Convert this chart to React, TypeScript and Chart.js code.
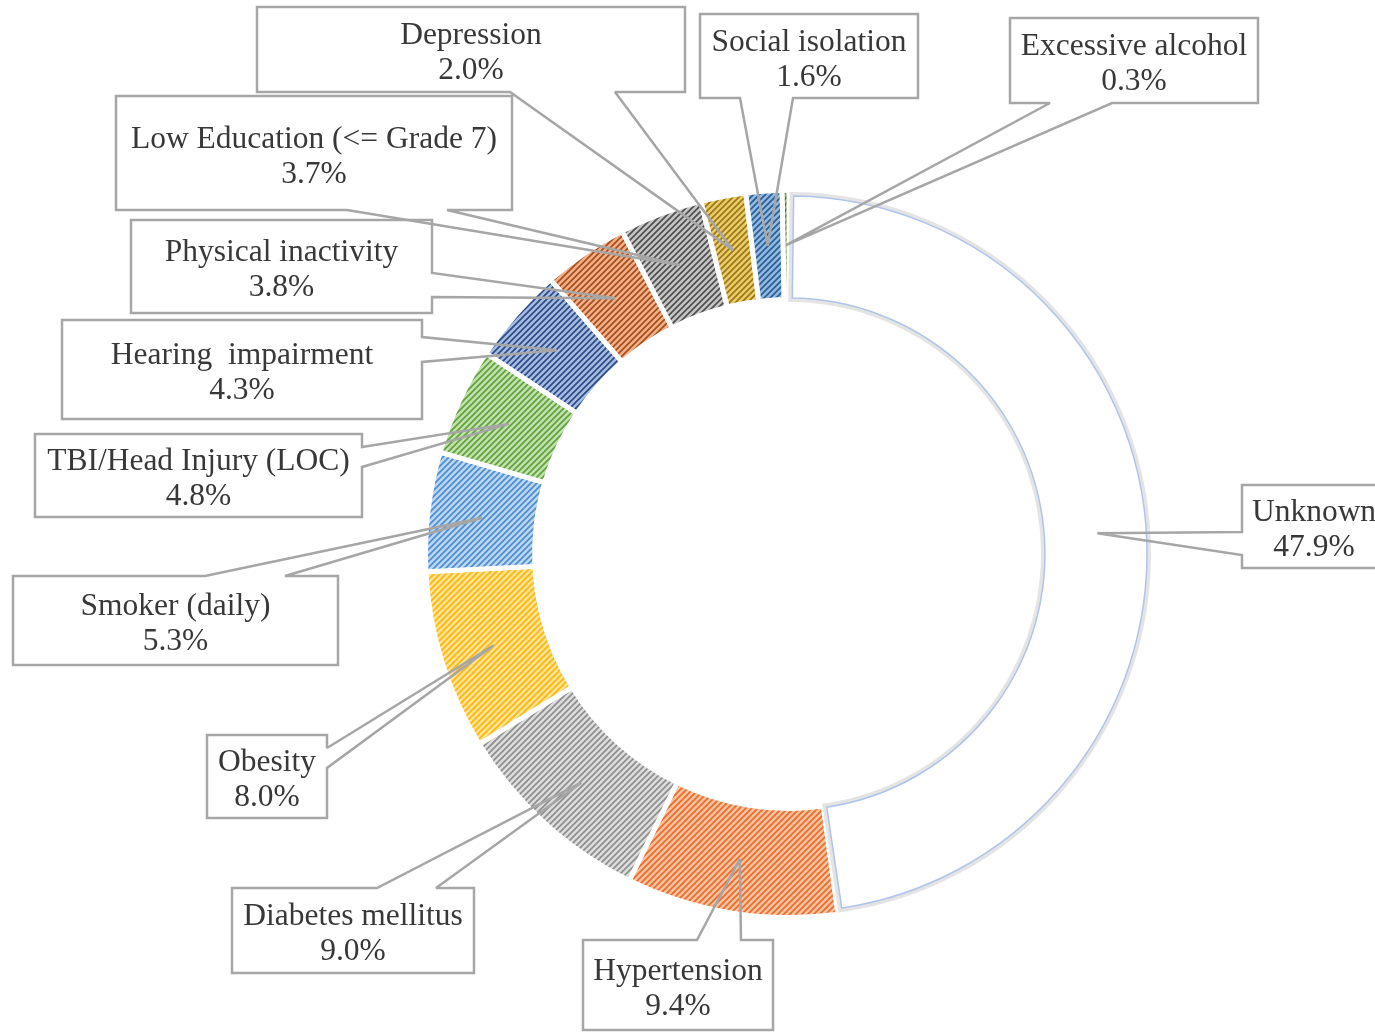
import React, { useEffect, useRef } from 'react';
import { Chart, registerables } from 'chart.js';

Chart.register(...registerables);

// ---- data ----
const categories = [
  'Unknown',
  'Hypertension',
  'Diabetes mellitus',
  'Obesity',
  'Smoker (daily)',
  'TBI/Head Injury (LOC)',
  'Hearing  impairment',
  'Physical inactivity',
  'Low Education (<= Grade 7)',
  'Depression',
  'Social isolation',
  'Excessive alcohol',
];
const values = [47.9, 9.4, 9.0, 8.0, 5.3, 4.8, 4.3, 3.8, 3.7, 2.0, 1.6, 0.3];

// ---- styles ----
const tintColors = [
  '#FFFFFF', '#F8C3A0', '#DDDDDD', '#FFE38F', '#BCD6F0', '#C3E0B0',
  '#A7BCE2', '#F2B08A', '#C6C6C6', '#EACB6E', '#94B9E0', '#86AE66',
];
const stripeColors = [
  '#FFFFFF', '#EC6A2A', '#8E8E8E', '#FDB515', '#4B8DD4', '#5FA23A',
  '#2C4A85', '#A54E1A', '#4E4E4E', '#9A7810', '#285E97', '#43682B',
];

// ---- callout layout (box rectangles and where the pointer leaves the box) ----
type Side = 'top' | 'right' | 'bottom' | 'left';
const calloutLayout: { x0: number; y0: number; x1: number; y1: number; side: Side; a: number; b: number }[] = [
  { x0: 1242, y0: 485, x1: 1386, y1: 568, side: 'left', a: 532, b: 555 },
  { x0: 583, y0: 940, x1: 773, y1: 1030, side: 'top', a: 697, b: 741 },
  { x0: 232, y0: 888, x1: 474, y1: 973, side: 'top', a: 377, b: 436 },
  { x0: 207, y0: 735, x1: 327, y1: 818, side: 'right', a: 748, b: 768 },
  { x0: 13, y0: 576, x1: 338, y1: 665, side: 'top', a: 205, b: 285 },
  { x0: 35, y0: 434, x1: 362, y1: 517, side: 'right', a: 447, b: 467 },
  { x0: 62, y0: 320, x1: 422, y1: 419, side: 'right', a: 337, b: 362 },
  { x0: 131, y0: 220, x1: 432, y1: 313, side: 'right', a: 273, b: 297 },
  { x0: 116, y0: 96, x1: 512, y1: 210, side: 'bottom', a: 347, b: 447 },
  { x0: 257, y0: 7, x1: 685, y1: 92, side: 'bottom', a: 510, b: 615 },
  { x0: 700, y0: 14, x1: 918, y1: 98, side: 'bottom', a: 740, b: 793 },
  { x0: 1010, y0: 18, x1: 1258, y1: 103, side: 'bottom', a: 1050, b: 1112 },
];

function makePattern(bg: string, fg: string): CanvasPattern | string {
  const size = 6;
  const c = document.createElement('canvas');
  c.width = size;
  c.height = size;
  const g = c.getContext('2d');
  if (!g) return bg;
  g.fillStyle = bg;
  g.fillRect(0, 0, size, size);
  g.strokeStyle = fg;
  g.lineWidth = 1.7;
  g.lineCap = 'square';
  g.beginPath();
  g.moveTo(0, size);
  g.lineTo(size, 0);
  g.moveTo(-1, 1);
  g.lineTo(1, -1);
  g.moveTo(size - 1, size + 1);
  g.lineTo(size + 1, size - 1);
  g.stroke();
  const p = g.createPattern(c, 'repeat');
  return p || bg;
}

const unknownPlugin = {
  id: 'unknownOutline',
  afterDatasetsDraw(chart: any) {
    const meta = chart.getDatasetMeta(0);
    const arc = meta.data[0];
    if (!arc) return;
    const p = arc.getProps(['x', 'y', 'startAngle', 'endAngle', 'innerRadius', 'outerRadius'], true);
    const ctx: CanvasRenderingContext2D = chart.ctx;
    const ro = p.outerRadius - 5.5;
    const ri = p.innerRadius + 1.5;
    const d = 4 / ((ro + ri) / 2);
    const s = p.startAngle + d;
    const e = p.endAngle - d;
    ctx.save();
    ctx.beginPath();
    ctx.arc(p.x, p.y, ro, s, e);
    ctx.arc(p.x, p.y, ri, e, s, true);
    ctx.closePath();
    ctx.lineJoin = 'miter';
    ctx.strokeStyle = '#E4E4E4';
    ctx.lineWidth = 8;
    ctx.stroke();
    ctx.fillStyle = '#FFFFFF';
    ctx.fill();
    ctx.strokeStyle = '#AFC4EA';
    ctx.lineWidth = 1.5;
    ctx.stroke();
    ctx.restore();
  },
};

const calloutPlugin = {
  id: 'callouts',
  afterDraw(chart: any) {
    const meta = chart.getDatasetMeta(0);
    const ctx: CanvasRenderingContext2D = chart.ctx;
    ctx.save();
    meta.data.forEach((arc: any, i: number) => {
      const L = calloutLayout[i];
      if (!L) return;
      const p = arc.getProps(['x', 'y', 'startAngle', 'endAngle', 'innerRadius', 'outerRadius'], true);
      const mid = (p.startAngle + p.endAngle) / 2;
      const r = (p.innerRadius + p.outerRadius) / 2;
      const tx = p.x + Math.cos(mid) * r;
      const ty = p.y + Math.sin(mid) * r;
      const lo = Math.min(L.a, L.b);
      const hi = Math.max(L.a, L.b);

      ctx.fillStyle = '#FFFFFF';
      ctx.fillRect(L.x0, L.y0, L.x1 - L.x0, L.y1 - L.y0);

      ctx.beginPath();
      ctx.moveTo(L.x0, L.y0);
      if (L.side === 'top') {
        ctx.lineTo(lo, L.y0);
        ctx.lineTo(tx, ty);
        ctx.lineTo(hi, L.y0);
      }
      ctx.lineTo(L.x1, L.y0);
      if (L.side === 'right') {
        ctx.lineTo(L.x1, lo);
        ctx.lineTo(tx, ty);
        ctx.lineTo(L.x1, hi);
      }
      ctx.lineTo(L.x1, L.y1);
      if (L.side === 'bottom') {
        ctx.lineTo(hi, L.y1);
        ctx.lineTo(tx, ty);
        ctx.lineTo(lo, L.y1);
      }
      ctx.lineTo(L.x0, L.y1);
      if (L.side === 'left') {
        ctx.lineTo(L.x0, hi);
        ctx.lineTo(tx, ty);
        ctx.lineTo(L.x0, lo);
      }
      ctx.closePath();
      ctx.lineJoin = 'miter';
      ctx.miterLimit = 2;
      ctx.strokeStyle = '#A6A6A6';
      ctx.lineWidth = 2.5;
      ctx.stroke();

      const cx = (L.x0 + L.x1) / 2;
      const cy = (L.y0 + L.y1) / 2 + 4;
      ctx.fillStyle = '#383838';
      ctx.font = '31.5px "Liberation Serif", "Times New Roman", serif';
      ctx.textAlign = 'center';
      ctx.textBaseline = 'middle';
      ctx.fillText(categories[i], cx, cy - 17.5);
      ctx.fillText(values[i].toFixed(1) + '%', cx, cy + 17.5);
    });
    ctx.restore();
  },
};

export default function App() {
  const canvasRef = useRef<HTMLCanvasElement | null>(null);

  useEffect(() => {
    const canvas = canvasRef.current;
    if (!canvas) return;
    const fills = values.map((_, i) => makePattern(tintColors[i], stripeColors[i]));
    const chart = new Chart(canvas, {
      type: 'doughnut',
      data: {
        labels: categories,
        datasets: [
          {
            data: values,
            backgroundColor: fills as any,
            borderColor: '#FFFFFF',
            borderWidth: 5,
            hoverBorderWidth: 5,
            hoverOffset: 0,
          } as any,
        ],
      },
      options: {
        responsive: false,
        devicePixelRatio: 1,
        animation: false,
        events: [],
        cutout: '70%',
        rotation: 0,
        layout: { padding: { left: 423, top: 188, right: 220, bottom: 113 } },
        plugins: {
          legend: { display: false },
          title: { display: false },
          tooltip: { enabled: false },
        },
      },
      plugins: [unknownPlugin, calloutPlugin],
    });
    return () => chart.destroy();
  }, []);

  return (
    <div style={{ position: 'absolute', left: 0, top: 0, width: 1375, height: 1033, overflow: 'hidden', background: '#FFFFFF' }}>
      <canvas ref={canvasRef} width={1375} height={1033} style={{ display: 'block' }} />
    </div>
  );
}
